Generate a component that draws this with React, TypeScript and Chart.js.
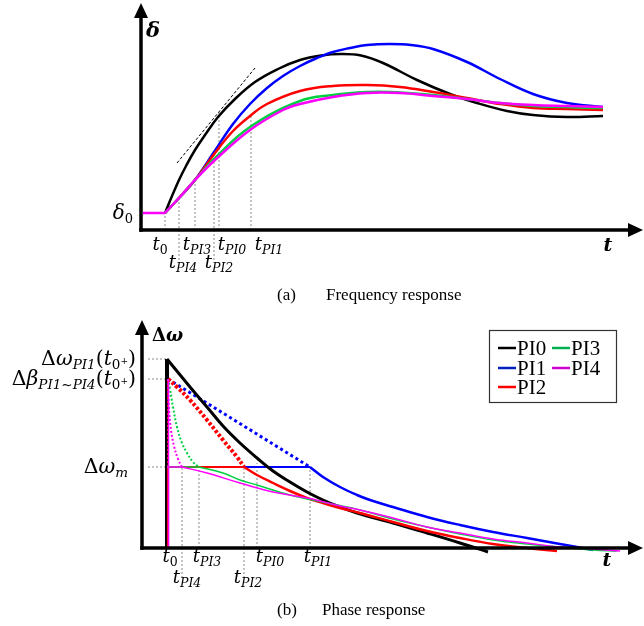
import React, { useEffect, useRef } from "react";
import { Chart, registerables } from "chart.js";
Chart.register(...registerables);

type P = [number, number];

// ---------- shared ----------
const seriesNames = ["PI0", "PI1", "PI2", "PI3", "PI4"];
const seriesColors = ["#000000", "#0000ff", "#ff0000", "#00d040", "#ff00ff"];
const legendColors = ["#000000", "#0020c0", "#ff0000", "#00b050", "#d000d0"];
const tickNames = ["0", "PI4", "PI3", "PI2", "PI0", "PI1"];
const tickRow = [0, 1, 0, 1, 0, 0];

// ---------- (a) frequency response ----------
const freqTickTimes = [24, 38, 54, 73, 78, 110];
const freqGuideTop = [17, 32, 50, 77, 118, 116];
const freqGuideBottom = [0, -30, 0, -30, 0, 0];
const freqDelta0 = 17;
const freqFlat: P[] = [[2, 17], [24, 17]];
const freqPI0: P[] = [[24, 17], [31, 34], [38, 50], [45, 64], [54, 80], [64, 95], [77, 113], [94, 131], [114, 148], [137, 161], [159, 170], [180, 174.5], [200, 176], [220, 174.5], [242, 167], [276, 150], [309, 136], [336, 127], [366, 119], [392, 115], [426, 113], [462, 114]];
const freqPI1: P[] = [[24, 17], [38, 32], [54, 50], [73, 78], [92, 106], [109, 126], [126, 142], [142, 154], [159, 164], [176, 172], [192, 178], [209, 182], [226, 185], [249, 186], [270, 185], [292, 181], [326, 168], [359, 151], [392, 136], [426, 127], [462, 123]];
const freqPI2: P[] = [[24, 17], [38, 32], [54, 50], [74, 77], [92, 99], [109, 114], [126, 126], [159, 139], [192, 144], [226, 145], [259, 143], [292, 138], [326, 132], [359, 126], [392, 122], [426, 121], [462, 120]];
const freqPI3: P[] = [[24, 17], [38, 32], [54, 50], [74, 72], [109, 103], [159, 129], [192, 135], [226, 138], [250, 138], [292, 135], [326, 131], [359, 127], [392, 124], [462, 122]];
const freqPI4: P[] = [[24, 17], [38, 32], [54, 50], [74, 70], [109, 100], [142, 120], [159, 126], [192, 133], [226, 137], [259, 137], [292, 134], [326, 131], [359, 127], [392, 125], [426, 124], [462, 123]];
const freqTangent: P[] = [[36, 67], [114, 162]];

// ---------- (b) phase response ----------
const phaseTickTimes = [25, 40, 57, 102, 115, 168];
const phaseLevels = [189, 169, 81]; // Δω_PI1(t0+), Δβ_PI1~PI4(t0+), Δω_m
const phaseGuideTop = [81, 81, 81, 81, 85, 81];
const phaseGuideBottom = [0, -30, 0, -30, 0, 0];
const phasePI0: P[] = [[25, 189], [48, 161], [65, 141], [81, 122], [98, 105], [115, 90], [131, 77], [148, 66], [165, 56], [181, 48], [198, 41], [215, 35], [251, 25], [285, 15], [318, 5], [346, -4]];
const phasePI1Dotted: P[] = [[26, 169], [168, 81]];
const phasePI1: P[] = [[168, 81], [181, 71], [198, 61], [215, 53], [228, 48], [251, 41], [285, 31], [318, 23], [351, 16], [385, 10], [418, 4], [435, 1], [451, -2]];
const phasePI2Dotted: P[] = [[26, 169], [35, 161], [48, 148], [65, 128], [81, 108], [95, 91], [102, 81]];
const phasePI2: P[] = [[102, 81], [115, 73], [131, 65], [148, 57], [165, 50], [181, 45], [198, 40], [218, 35], [251, 26], [285, 17], [318, 10], [351, 4], [385, 0], [415, -3]];
const phasePI3Dotted: P[] = [[26, 169], [28, 159], [31, 141], [35, 121], [40, 105], [45, 95], [51, 86], [57, 81]];
const phasePI3: P[] = [[57, 81], [81, 75], [98, 68], [115, 63], [148, 53], [185, 45], [218, 38], [251, 29], [285, 21], [318, 14], [351, 8], [385, 4], [418, 1], [451, -2], [475, -3]];
const phasePI4Dotted: P[] = [[26, 169], [27, 140], [29, 118], [32, 102], [36, 89], [40, 81]];
const phasePI4: P[] = [[40, 81], [65, 75], [98, 65], [131, 56], [165, 50], [198, 42], [218, 38], [251, 30], [285, 21], [318, 15], [351, 9], [385, 5], [418, 1], [450, -1], [478, -3]];

// ---------- helpers ----------
const MI = (s: number) => `italic ${s}px "DejaVu Serif"`;
const RM = (s: number) => `${s}px "DejaVu Serif"`;
const BI = (s: number) => `bold italic ${s}px "DejaVu Serif"`;
const BD = (s: number) => `bold ${s}px "DejaVu Serif"`;
const TM = (s: number) => `${s}px "Liberation Serif"`;

type Seg = [string, string, number];
function rich(ctx: CanvasRenderingContext2D, x: number, y: number, segs: Seg[], align: "left" | "right" | "center") {
  let w = 0;
  for (const [t, f] of segs) { ctx.font = f; w += ctx.measureText(t).width; }
  let cx = align === "left" ? x : align === "right" ? x - w : x - w / 2;
  ctx.textAlign = "left";
  ctx.textBaseline = "alphabetic";
  ctx.fillStyle = "#000";
  for (const [t, f, dy] of segs) { ctx.font = f; ctx.fillText(t, cx, y + dy); cx += ctx.measureText(t).width; }
}
const tickSegs = (n: string): Seg[] => [["t", MI(18), 0], [n, n === "0" ? RM(12.5) : MI(12.5), 4]];

const pts = (d: P[]) => d.map(([x, y]) => ({ x, y }));
function line(d: P[], color: string, width: number, extra: any = {}) {
  return { data: pts(d), borderColor: color, backgroundColor: color, borderWidth: width, pointRadius: 0, fill: false, clip: false as any, tension: 0, borderCapStyle: "butt", ...extra };
}
const curve = (d: P[], color: string, width: number, extra: any = {}) => line(d, color, width, { tension: 0.4, ...extra });
const guide = (d: P[]) => line(d, "#8a8a8a", 1, { borderDash: [2, 2] });

function drawAxes(chart: any, tipX: number, tipY: number) {
  const { ctx, scales } = chart;
  const ox = scales.x.getPixelForValue(0), oy = scales.y.getPixelForValue(0);
  const tx = scales.x.getPixelForValue(tipX), ty = scales.y.getPixelForValue(tipY);
  ctx.save();
  ctx.strokeStyle = "#000"; ctx.fillStyle = "#000"; ctx.lineWidth = 3.5; ctx.setLineDash([]);
  ctx.beginPath(); ctx.moveTo(ox, oy + 1.75); ctx.lineTo(ox, ty + 12); ctx.stroke();
  ctx.beginPath(); ctx.moveTo(ox - 1.75, oy); ctx.lineTo(tx - 12, oy); ctx.stroke();
  ctx.beginPath(); ctx.moveTo(ox, ty); ctx.lineTo(ox - 7, ty + 15); ctx.lineTo(ox + 7, ty + 15); ctx.closePath(); ctx.fill();
  ctx.beginPath(); ctx.moveTo(tx, oy); ctx.lineTo(tx - 15, oy - 7); ctx.lineTo(tx - 15, oy + 7); ctx.closePath(); ctx.fill();
  ctx.restore();
}

function withOrder(list: any[]) {
  const n = list.length;
  return list.map((d, i) => ({ ...d, order: n - i }));
}

function baseOptions(pad: any, xmax: number, ymax: number, ymin: number) {
  return {
    animation: false as const,
    responsive: false,
    events: [] as any[],
    layout: { padding: pad },
    plugins: { legend: { display: false }, tooltip: { enabled: false } },
    scales: {
      x: { type: "linear" as const, display: false, min: 0, max: xmax },
      y: { type: "linear" as const, display: false, min: ymin, max: ymax },
    },
  };
}

// ---------- charts ----------
function FreqChart() {
  const ref = useRef<HTMLCanvasElement>(null);
  useEffect(() => {
    const series = [freqPI0, freqPI1, freqPI2, freqPI3, freqPI4];
    const datasets: any[] = [];
    freqTickTimes.forEach((t, i) => datasets.push(guide([[t, freqGuideBottom[i]], [t, freqGuideTop[i]]])));
    [0, 1, 2, 3, 4].forEach((i) => datasets.push(curve(series[i], seriesColors[i], 2.5)));
    datasets.push(line(freqFlat, seriesColors[4], 2.5));
    datasets.push(line(freqTangent, "#000", 1, { borderDash: [3, 2] }));
    const plugin = {
      id: "freqDeco",
      afterDatasetsDraw(chart: any) {
        drawAxes(chart, 502, 227);
        const { ctx, scales } = chart;
        const ox = scales.x.getPixelForValue(0), oy = scales.y.getPixelForValue(0);
        const offs = [-5, 4, 2, 5, 13, 18];
        freqTickTimes.forEach((t, i) => {
          rich(ctx, scales.x.getPixelForValue(t) + offs[i], oy + (tickRow[i] ? 38 : 20), tickSegs(tickNames[i]), "center");
        });
        rich(ctx, ox + 12, 37, [["δ", BI(21), 0]], "center");
        rich(ctx, ox - 8, scales.y.getPixelForValue(freqDelta0) + 6, [["δ", MI(20), 0], ["0", RM(13), 4]], "right");
        rich(ctx, scales.x.getPixelForValue(467), oy + 21, [["t", BI(19), 0]], "center");
        rich(ctx, 277, 300, [["(a)", TM(17), 0]], "left");
        rich(ctx, 326, 300, [["Frequency response", TM(17), 0]], "left");
      },
    };
    const chart = new Chart(ref.current!, {
      type: "line",
      data: { datasets: withOrder(datasets) },
      options: baseOptions({ left: 141, right: 1, top: 0, bottom: 82 }, 502, 230, 0) as any,
      plugins: [plugin],
    });
    return () => chart.destroy();
  }, []);
  return <canvas ref={ref} width={644} height={312} style={{ position: "absolute", left: 0, top: 0 }} />;
}

function PhaseChart() {
  const ref = useRef<HTMLCanvasElement>(null);
  useEffect(() => {
    const t0 = phaseTickTimes[0];
    const wm = phaseLevels[2];
    const holdEnd = [phaseTickTimes[4], phaseTickTimes[5], phaseTickTimes[3], phaseTickTimes[2], phaseTickTimes[1]];
    const datasets: any[] = [];
    phaseLevels.forEach((l) => datasets.push(guide([[6, l], [t0, l]])));
    phaseTickTimes.slice(1).forEach((t, k) => {
      const i = k + 1;
      datasets.push(guide([[t, phaseGuideBottom[i]], [t, phaseGuideTop[i]]]));
    });
    // PI1 (blue, bottom)
    datasets.push(line([[t0, wm], [holdEnd[1], wm]], seriesColors[1], 2.2));
    datasets.push(line(phasePI1Dotted, seriesColors[1], 3, { borderDash: [3, 3] }));
    datasets.push(curve(phasePI1, seriesColors[1], 2.5));
    // PI0 (black)
    datasets.push(line([[t0, 0], [t0, phaseLevels[0]]], seriesColors[0], 4));
    datasets.push(curve(phasePI0, seriesColors[0], 3));
    // PI2 (red)
    datasets.push(line([[t0 + 1, 0], [t0 + 1, wm], [holdEnd[2], wm]], seriesColors[2], 2.2));
    datasets.push(line([[t0 + 1, wm], [t0 + 1, phaseLevels[1]]], seriesColors[2], 2, { borderDash: [2, 2] }));
    datasets.push(curve(phasePI2Dotted, seriesColors[2], 4, { borderDash: [3, 2] }));
    datasets.push(curve(phasePI2, seriesColors[2], 2.5));
    // PI3 (green)
    datasets.push(line([[t0, wm], [holdEnd[3], wm]], seriesColors[3], 1.5));
    datasets.push(curve(phasePI3Dotted, seriesColors[3], 2, { borderDash: [2, 2] }));
    datasets.push(curve(phasePI3, seriesColors[3], 1.5));
    // PI4 (magenta, top)
    datasets.push(line([[t0 + 1.5, 0], [t0 + 1.5, phaseLevels[1]]], seriesColors[4], 1.5));
    datasets.push(line([[t0, wm], [holdEnd[4], wm]], seriesColors[4], 1.5));
    datasets.push(curve(phasePI4Dotted, seriesColors[4], 2, { borderDash: [2, 2] }));
    datasets.push(curve(phasePI4, seriesColors[4], 1.5));

    const plugin = {
      id: "phaseDeco",
      afterDatasetsDraw(chart: any) {
        drawAxes(chart, 501, 228);
        const { ctx, scales } = chart;
        const ox = scales.x.getPixelForValue(0), oy = scales.y.getPixelForValue(0);
        const offs = [3, 5, 8, 4, 13, 8];
        phaseTickTimes.forEach((t, i) => {
          rich(ctx, scales.x.getPixelForValue(t) + offs[i], oy + (tickRow[i] ? 35 : 14), tickSegs(tickNames[i]), "center");
        });
        rich(ctx, ox + 10, 29, [["Δ", BD(18), 0], ["ω", BI(18), 0]], "left");
        const yl = (v: number) => scales.y.getPixelForValue(v) + 6;
        const big = 20.5, sm = 13.5;
        rich(ctx, ox - 6, yl(phaseLevels[0]), [["Δ", RM(big), 0], ["ω", MI(big), 0], ["PI1", MI(sm), 4], ["(", RM(big), 0], ["t", MI(big), 0], ["0", RM(sm), 4], ["+", RM(9), -1], [")", RM(big), 0]], "right");
        rich(ctx, ox - 6, yl(phaseLevels[1]), [["Δ", RM(big), 0], ["β", MI(big), 0], ["PI1~PI4", MI(sm), 4], ["(", RM(big), 0], ["t", MI(big), 0], ["0", RM(sm), 4], ["+", RM(9), -1], [")", RM(big), 0]], "right");
        rich(ctx, ox - 14, yl(phaseLevels[2]), [["Δ", RM(big), 0], ["ω", MI(big), 0], ["m", MI(sm), 4]], "right");
        rich(ctx, scales.x.getPixelForValue(465), oy + 18, [["t", BI(19), 0]], "center");
        rich(ctx, 277, 303, [["(b)", TM(17), 0]], "left");
        rich(ctx, 322, 303, [["Phase response", TM(17), 0]], "left");
        // legend
        ctx.save();
        ctx.fillStyle = "#fff";
        ctx.fillRect(489, 18, 127, 72);
        ctx.strokeStyle = "#333"; ctx.lineWidth = 1.2; ctx.setLineDash([]);
        ctx.strokeRect(489.5, 18.5, 127, 72);
        const slots = [[498, 36], [498, 56], [498, 75], [552, 36], [552, 56]];
        seriesNames.forEach((n, i) => {
          const [lx, ly] = slots[i];
          ctx.strokeStyle = legendColors[i]; ctx.lineWidth = 2.5;
          ctx.beginPath(); ctx.moveTo(lx, ly); ctx.lineTo(lx + 18, ly); ctx.stroke();
          ctx.fillStyle = "#000"; ctx.font = TM(21); ctx.textBaseline = "middle"; ctx.textAlign = "left";
          ctx.fillText(n, lx + 19, ly + 1);
        });
        ctx.restore();
      },
    };
    const chart = new Chart(ref.current!, {
      type: "line",
      data: { datasets: withOrder(datasets) },
      options: baseOptions({ left: 142, right: 1, top: 0, bottom: 78 }, 501, 236, 0) as any,
      plugins: [plugin],
    });
    return () => chart.destroy();
  }, []);
  return <canvas ref={ref} width={644} height={314} style={{ position: "absolute", left: 0, top: 312 }} />;
}

export default function App() {
  return (
    <div style={{ position: "absolute", left: 0, top: 0, width: 644, height: 626, background: "#fff", overflow: "hidden" }}>
      <FreqChart />
      <PhaseChart />
    </div>
  );
}
